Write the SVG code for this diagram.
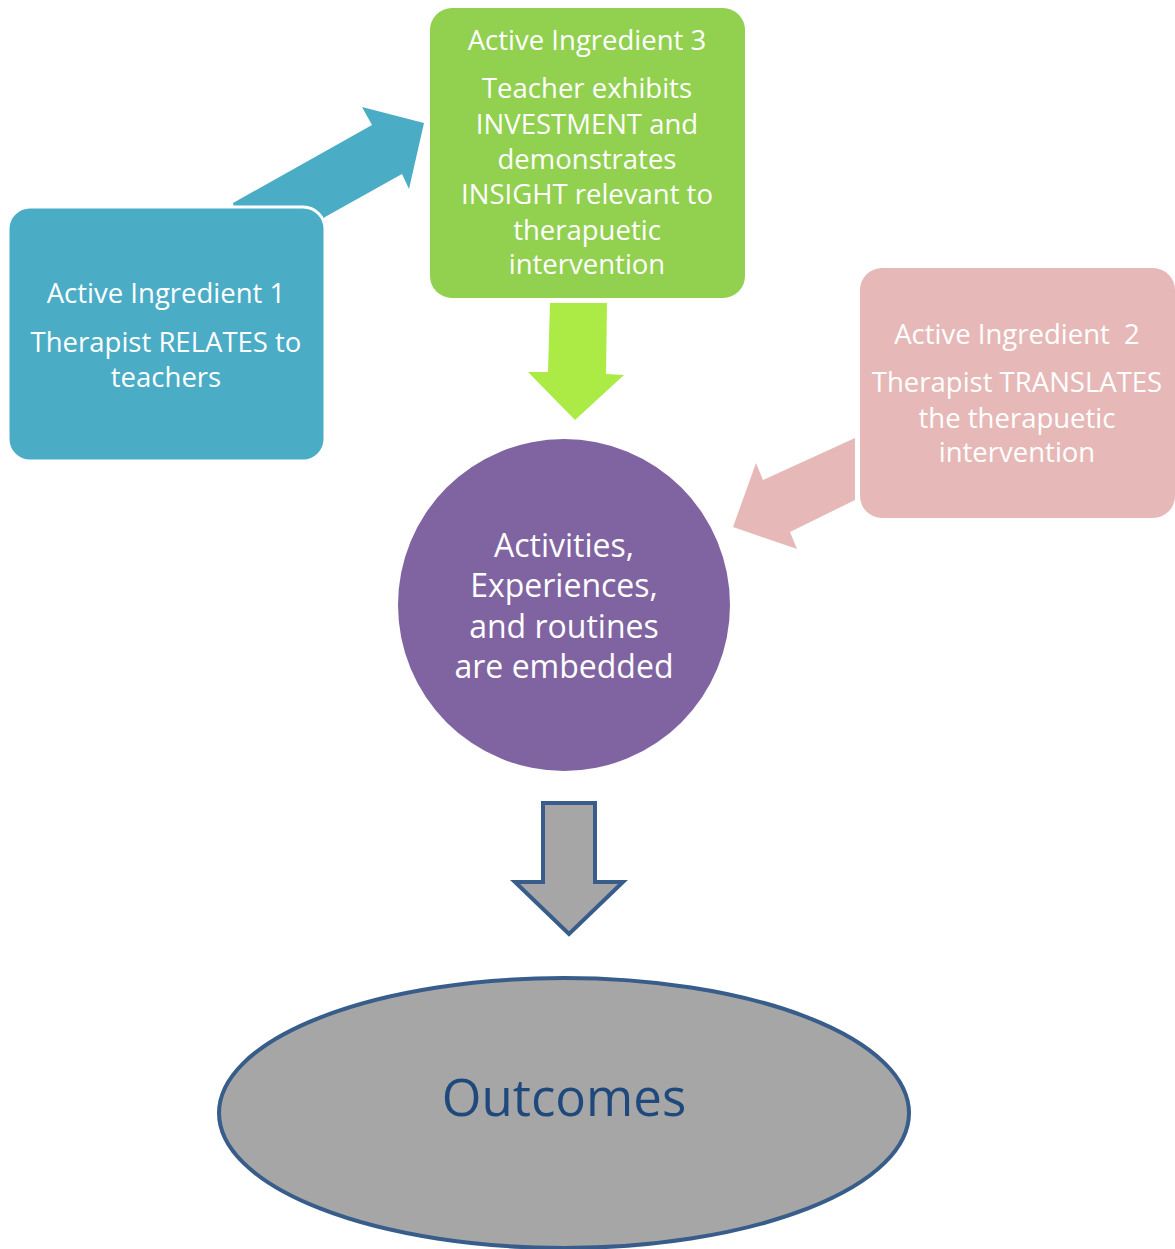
<svg xmlns="http://www.w3.org/2000/svg" width="1175" height="1249" viewBox="0 0 1175 1249">
<style>
.t{font-family:"Open Sans","Liberation Sans",sans-serif;fill:#ffffff;text-anchor:middle;font-size:27.5px}
.c{font-family:"Open Sans","Liberation Sans",sans-serif;fill:#ffffff;text-anchor:middle;font-size:32px}
.o{font-family:"Open Sans","Liberation Sans",sans-serif;fill:#1f497d;text-anchor:middle;font-size:51px}
</style>
<rect width="1175" height="1249" fill="#ffffff"/>
<g id="connectors">
<polygon points="233,203 372,125 362,107 424,123 409,189 402,174 325,217 300,240 240,240" fill="#4bacc6"/>
<polygon points="550,303 607,303 606,374 624,375 575,420 528,372 548,372" fill="#acea45"/>
<polygon points="855,438 763,480 756,463 733,527 797,549 790,532 855,500" fill="#e6b9b8"/>
<polygon points="543,803 595,803 595,882 623,882 569,934 515,882 543,882" fill="#a6a6a6" stroke="#385d8a" stroke-width="4" stroke-linejoin="miter"/>
</g>
<g id="node-ai1">
<rect x="8" y="207" width="317" height="254" rx="22" fill="#4bacc6" stroke="#ffffff" stroke-width="3"/>
<text class="t" x="166" y="303">Active Ingredient 1</text>
<text class="t" x="166" y="352">Therapist RELATES to</text>
<text class="t" x="166" y="387">teachers</text>
</g>
<g id="node-ai3">
<rect x="430" y="8" width="315" height="290" rx="22" fill="#92d050"/>
<text class="t" x="587" y="50">Active Ingredient 3</text>
<text class="t" x="587" y="98">Teacher exhibits</text>
<text class="t" x="587" y="134">INVESTMENT and</text>
<text class="t" x="587" y="169">demonstrates</text>
<text class="t" x="587" y="204">INSIGHT relevant to</text>
<text class="t" x="587" y="240">therapuetic</text>
<text class="t" x="587" y="274">intervention</text>
</g>
<g id="node-ai2">
<rect x="860" y="268" width="315" height="250" rx="22" fill="#e6b9b8"/>
<text class="t" x="1017" y="344" xml:space="preserve">Active Ingredient  2</text>
<text class="t" x="1017" y="392">Therapist TRANSLATES</text>
<text class="t" x="1017" y="428">the therapuetic</text>
<text class="t" x="1017" y="462">intervention</text>
</g>
<g id="node-activities">
<circle cx="564" cy="605" r="166" fill="#8064a2"/>
<text class="c" x="564" y="557">Activities,</text>
<text class="c" x="564" y="597">Experiences,</text>
<text class="c" x="564" y="638">and routines</text>
<text class="c" x="564" y="678">are embedded</text>
</g>
<g id="node-outcomes">
<ellipse cx="564" cy="1113" rx="345" ry="135" fill="#a6a6a6" stroke="#385d8a" stroke-width="4"/>
<text class="o" x="564" y="1116">Outcomes</text>
</g>
</svg>
